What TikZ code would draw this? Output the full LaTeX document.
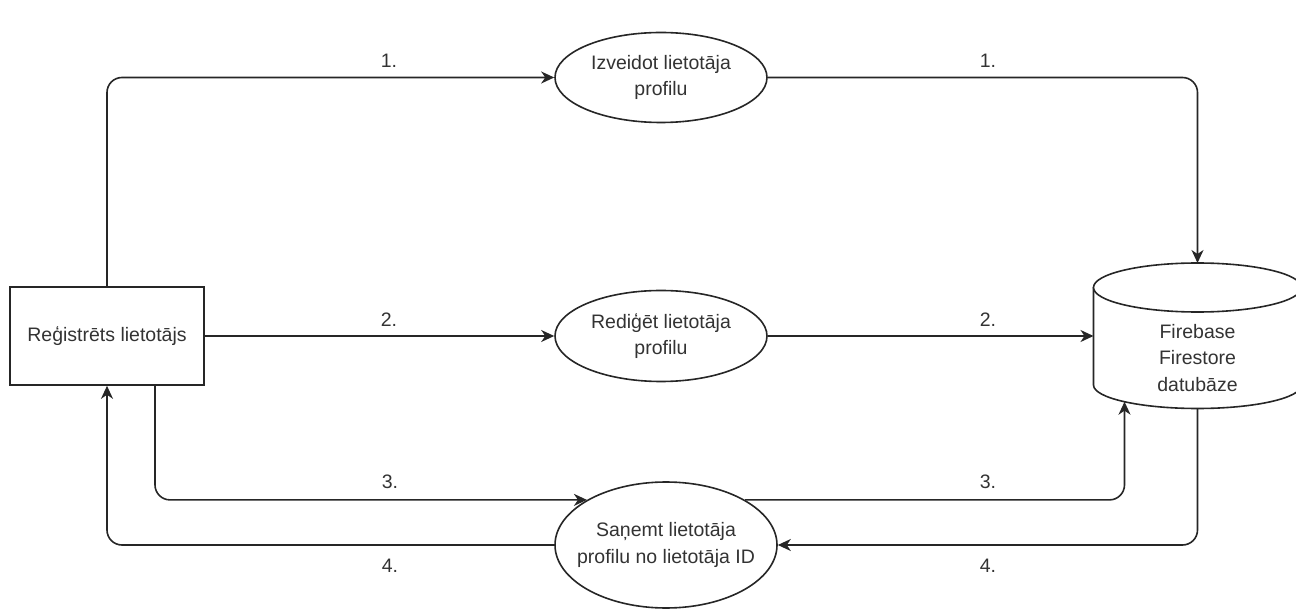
\documentclass[tikz,border=0pt]{standalone}
\usepackage{fontspec}
\setmainfont{Liberation Sans}
\usetikzlibrary{shapes.geometric,arrows.meta}
\begin{document}
\begin{tikzpicture}[x=1pt,y=-1pt,
  every node/.style={font=\fontsize{19.5}{26.5}\selectfont, text=black!80},
  line/.style={draw=black!85, line width=1.6pt},
  conn/.style={line, rounded corners=15pt, -{Stealth[length=13pt,width=12pt,inset=4pt]}},
  proc/.style={ellipse, line, fill=white, inner sep=0pt},
  entity/.style={rectangle, line, fill=white, minimum width=194pt, minimum height=98pt, align=center},
  num/.style={inner sep=0pt}]
\useasboundingbox (0,0) rectangle (1296,609);

% external entity
\node[entity] (user) at (107,336) {Reģistrēts lietotājs};

% processes
\node[proc, minimum width=212pt, minimum height=90pt] (create) at (661,77.5) {};
\node[align=center] (createtxt) at (create) {Izveidot lietotāja\\profilu};
\node[proc, minimum width=212pt, minimum height=91pt] (edit) at (661,336) {};
\node[align=center] (edittxt) at (edit) {Rediģēt lietotāja\\profilu};
\node[proc, minimum width=222pt, minimum height=126pt] (fetch) at (666,545) {};
\node[align=center] (fetchtxt) at (fetch) {Saņemt lietotāja\\profilu no lietotāja ID};

% data store (cylinder)
\path[fill=white] (1093.5,287.5) -- (1093.5,385)
  arc[start angle=180, end angle=360, x radius=104pt, y radius=23.5pt]
  -- (1301.5,287.5) -- cycle;
\draw[line] (1093.5,287.5) -- (1093.5,385)
  arc[start angle=180, end angle=360, x radius=104pt, y radius=23.5pt]
  -- (1301.5,287.5);
\draw[line, fill=white] (1197.5,287.5) ellipse[x radius=104pt, y radius=24.5pt];
\node[align=center] (db) at (1197.5,358) {Firebase\\Firestore\\datubāze};
\coordinate (dbtop) at (1197.5,263);
\coordinate (dbleft) at (1093.5,336);
\coordinate (dbbottom) at (1197.5,408.5);
\coordinate (dbin) at (1124.5,401.7);
\coordinate (userout) at (155,385);

% flows
\draw[conn] (user.north) |- (create.west);
\draw[conn] (create.east) -| (dbtop);
\draw[conn] (user.east) -- (edit.west);
\draw[conn] (edit.east) -- (dbleft);
\draw[conn] (userout) |- (fetch.north west);
\draw[conn] (fetch.north east) -| (dbin);
\draw[conn] (dbbottom) |- (fetch.east);
\draw[conn] (fetch.west) -| (user.south);

% flow numbers
\node[num] (n1a) at (389,61) {1.};
\node[num] (n1b) at (988,61) {1.};
\node[num] (n2a) at (389,320) {2.};
\node[num] (n2b) at (988,320) {2.};
\node[num] (n3a) at (390,482) {3.};
\node[num] (n3b) at (988,482) {3.};
\node[num] (n4a) at (390,566) {4.};
\node[num] (n4b) at (988,566) {4.};
\end{tikzpicture}
\end{document}
